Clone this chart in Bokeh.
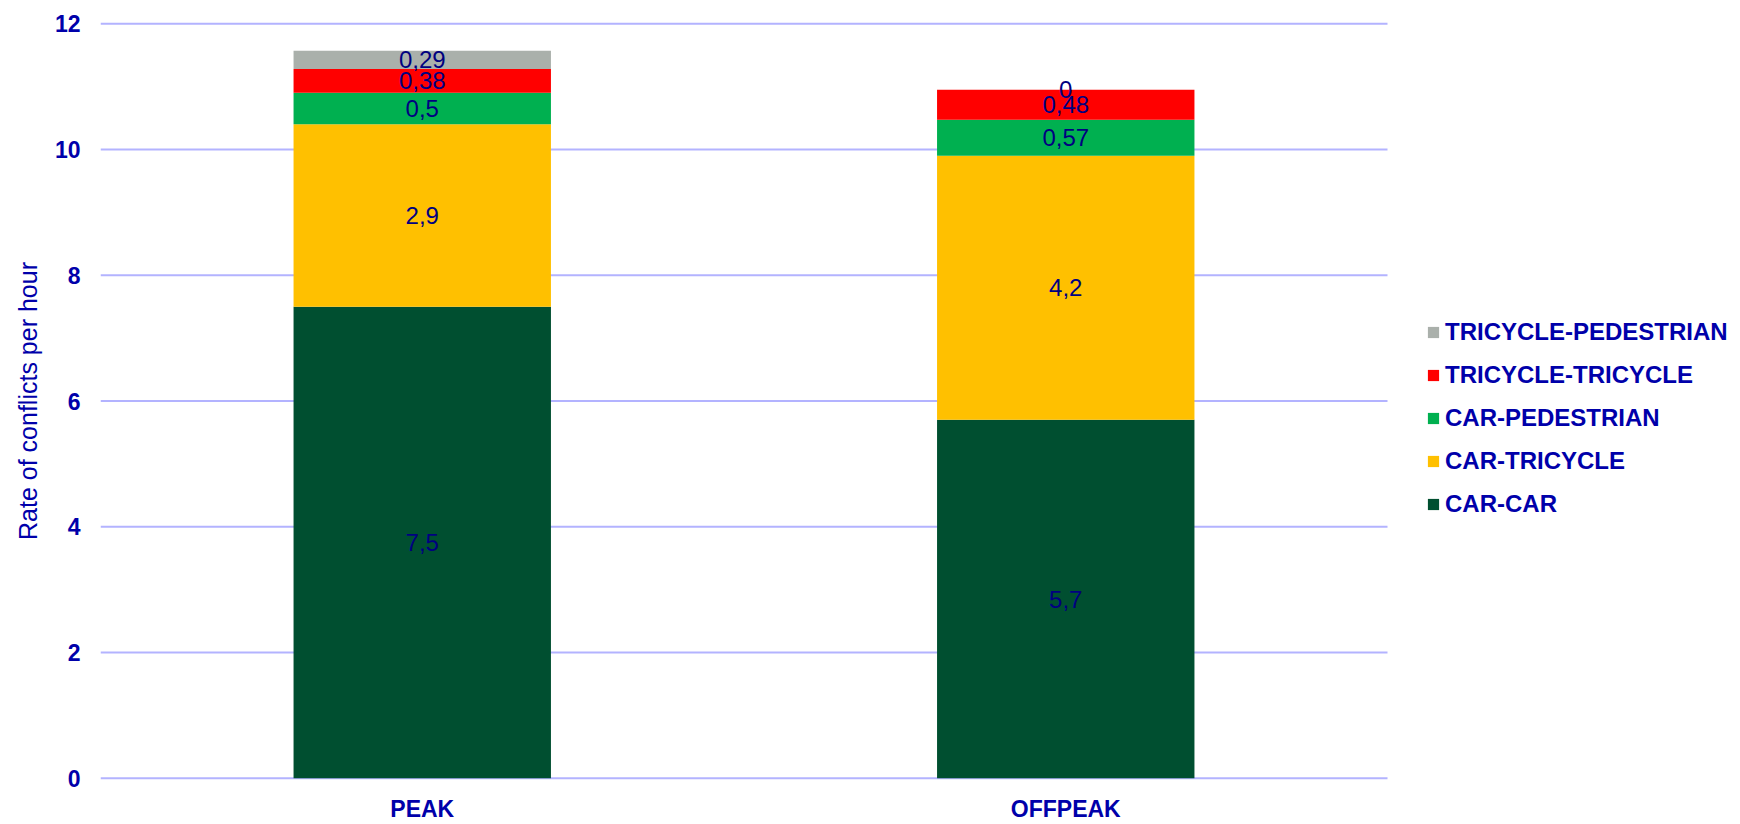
from bokeh.plotting import figure
from bokeh.models import ColumnDataSource, Legend, LegendItem, LabelSet, Range1d, FixedTicker
from bokeh.embed import file_html
from bokeh.resources import INLINE
from bokeh.core.properties import value

# ---- data ----
periods = ["PEAK", "OFFPEAK"]
conflict_types = ["CAR-CAR", "CAR-TRICYCLE", "CAR-PEDESTRIAN", "TRICYCLE-TRICYCLE", "TRICYCLE-PEDESTRIAN"]
car_car = [7.5, 5.7]
car_tricycle = [2.9, 4.2]
car_pedestrian = [0.5, 0.57]
tricycle_tricycle = [0.38, 0.48]
tricycle_pedestrian = [0.29, 0.0]
y_ticks = [0, 2, 4, 6, 8, 10, 12]

colors = ["#004F30", "#FFC000", "#00B050", "#FF0000", "#AAB0AB"]
keys = ["car_car", "car_tricycle", "car_pedestrian", "tricycle_tricycle", "tricycle_pedestrian"]
series = [car_car, car_tricycle, car_pedestrian, tricycle_tricycle, tricycle_pedestrian]

FONT = "Liberation Sans"
AXIS_COLOR = "#0000AA"

# category slots: each category occupies one unit, centred on i + 0.5
xpos = [i + 0.5 for i in range(len(periods))]
n_cat = len(periods)
# plot area spans categories (100..1387 px) while the frame extends to the right edge for the legend
x_end = n_cat * (1740 - 100) / (1387 - 100)

data = {"x": xpos, "period": periods}
for k, s in zip(keys, series):
    data[k] = s
source = ColumnDataSource(data)

p = figure(x_range=Range1d(0, x_end), y_range=Range1d(-0.05, 12.05),
           width=1740, height=824, output_backend="svg", toolbar_location=None,
           min_border_left=100, min_border_right=0, min_border_top=20, min_border_bottom=40)

# horizontal grid lines (only across the category area)
p.segment(x0=[0] * len(y_ticks), x1=[n_cat] * len(y_ticks), y0=y_ticks, y1=y_ticks,
          line_color="#B3B3FF", line_width=2)

renderers = p.vbar_stack(keys, x="x", width=0.4, color=colors, line_width=0, source=source)

# labels at segment centres
lx, ly, lt = [], [], []
for i, xc in enumerate(xpos):
    base = 0.0
    for s in series:
        v = s[i]
        lx.append(xc)
        ly.append(base + v / 2.0)
        lt.append(("%g" % v).replace(".", ","))
        base += v
lab_src = ColumnDataSource(dict(x=lx, y=ly, text=lt))
labels = LabelSet(x="x", y="y", text="text", source=lab_src, text_align="center",
                  text_baseline="middle", text_font=value(FONT), text_font_size="24px",
                  text_color="#000080")
p.add_layout(labels)

# axes
p.yaxis.ticker = FixedTicker(ticks=y_ticks)
p.xaxis.ticker = FixedTicker(ticks=xpos)
p.xaxis.major_label_overrides = {xc: name for xc, name in zip(xpos, periods)}
for ax in (p.xaxis, p.yaxis):
    ax.axis_line_color = None
    ax.major_tick_line_color = None
    ax.minor_tick_line_color = None
    ax.major_tick_out = 0
    ax.major_label_text_font = FONT
    ax.major_label_text_font_size = "23px"
    ax.major_label_text_font_style = "bold"
    ax.major_label_text_color = AXIS_COLOR
p.yaxis.major_label_standoff = 20
p.xaxis.major_label_standoff = 14
p.yaxis.axis_label = "Rate of conflicts per hour"
p.yaxis.axis_label_text_font = FONT
p.yaxis.axis_label_text_font_size = "25px"
p.yaxis.axis_label_text_font_style = "normal"
p.yaxis.axis_label_text_color = AXIS_COLOR
p.yaxis.axis_label_standoff = 10

p.xgrid.grid_line_color = None
p.ygrid.grid_line_color = None
p.outline_line_color = None

items = [LegendItem(label=t, renderers=[r]) for t, r in zip(conflict_types, renderers)][::-1]
legend = Legend(items=items, location=(1326, 263), padding=0, margin=0, spacing=15,
                glyph_width=14, glyph_height=14, label_standoff=5,
                label_text_font=FONT, label_text_font_size="24px", label_text_font_style="bold",
                label_text_color=AXIS_COLOR, border_line_color=None, background_fill_alpha=0)
p.add_layout(legend)

open("out.html", "w").write(file_html(p, INLINE))
